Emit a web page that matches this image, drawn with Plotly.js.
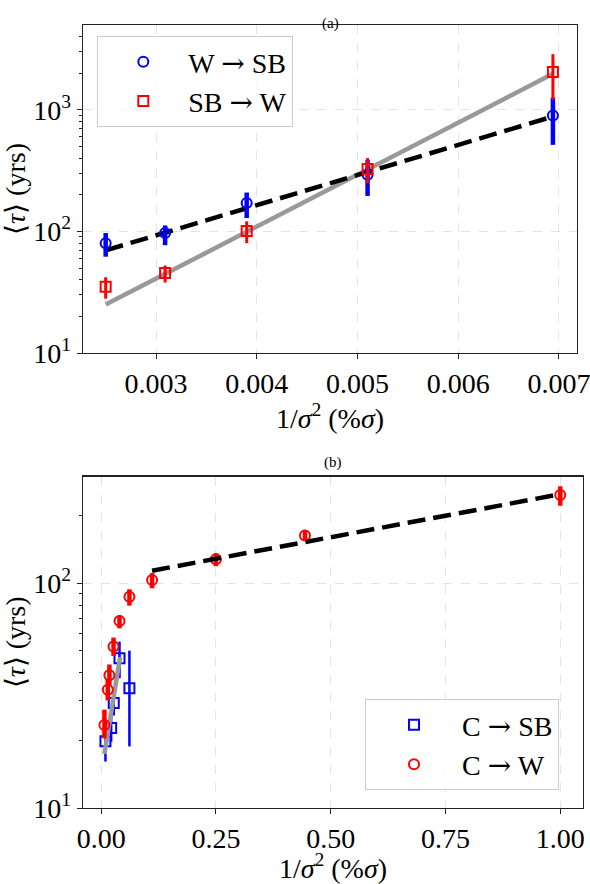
<!DOCTYPE html>
<html>
<head>
<meta charset="utf-8">
<script src="https://cdn.plot.ly/plotly-3.0.1.min.js"></script>
<style>
  body { margin: 0; background: #fff; }
  #graf { width: 590px; height: 884px; }
</style>
</head>
<body>
<div id="graf"></div>
<script>
// panel (a): 1/sigma^2 and mean residence time
var xA = [0.0025, 0.00309, 0.0039, 0.0051, 0.00694];
var tauWSB = [80, 97, 171, 292, 897];
var tauWSBplus = [17, 15, 38, 96, 365];
var tauWSBminus = [18, 20, 42, 96, 382];
var tauSBW = [35, 45.5, 101, 326, 2044];
var tauSBWplus = [7, 7, 20, 75, 826];
var tauSBWminus = [7, 7.5, 21, 77, 836];
var fitAx = [0.0025, 0.00694];
var fitAblack = [69.8, 881];
var fitAgray = [25, 1977];

// panel (b)
var xCW = [0.0072, 0.0145, 0.018, 0.027, 0.04, 0.0616, 0.111, 0.25, 0.444, 1.0];
var tauCW = [23.4, 33.6, 39, 52.3, 68, 87, 103.5, 128, 163, 247];
var tauCWplus = [4, 4, 4.5, 5, 4, 7, 7.5, 8, 9, 23];
var tauCWminus = [3, 3.5, 4, 4.8, 5, 7.5, 8.5, 9, 7, 26];
var xCSB = [0.0094, 0.0218, 0.0275, 0.04, 0.0616];
var tauCSB = [19.8, 22.7, 29.3, 46.4, 34.1];
var tauCSBplus = [1.7, 3, 3.5, 8.6, 16];
var tauCSBminus = [3.7, 3, 3.5, 8.6, 15.3];
var fitBgrayX = [0.0072, 0.0413];
var fitBgrayY = [17.4, 46.9];
var fitBblackX = [0.111, 1.0];
var fitBblackY = [113.7, 249];

var logTicks = [10, 100, 1000];
var logTickText = ['10<sup>1</sup>', '10<sup>2</sup>', '10<sup>3</sup>'];

var pismo = 'Liberation Serif, Times New Roman, serif';
var sipka = ' <span style="font-family:DejaVu Serif">\u2192</span> ';

function bodyStopa(x, y, plus, minus, farba, symbol, hrubka, meno, os, legenda) {
    return {
        x: x,
        y: y,
        type: 'scatter',
        mode: 'markers',
        name: meno,
        xaxis: os[0],
        yaxis: os[1],
        legend: legenda,
        legendgroup: meno,
        marker: {
            symbol: symbol,
            size: 10,
            color: farba,
            line: { color: farba, width: 2 }
        },
        error_y: {
            type: 'data',
            symmetric: false,
            array: plus,
            arrayminus: minus,
            color: farba,
            thickness: hrubka,
            width: 0
        }
    };
}

function ciara(x, y, farba, dash, os) {
    return {
        x: x,
        y: y,
        type: 'scatter',
        mode: 'lines',
        showlegend: false,
        hoverinfo: 'skip',
        xaxis: os[0],
        yaxis: os[1],
        line: { color: farba, width: 4.5, dash: dash }
    };
}

var data = [
    ciara(fitAx, fitAgray, '#999999', 'solid', ['x', 'y']),
    ciara(fitAx, fitAblack, '#000000', '18px,8px', ['x', 'y']),
    bodyStopa(xA, tauWSB, tauWSBplus, tauWSBminus, '#0000ff', 'circle-open', 4.5, 'W' + sipka + 'SB', ['x', 'y'], 'legend'),
    bodyStopa(xA, tauSBW, tauSBWplus, tauSBWminus, '#ff0000', 'square-open', 3, 'SB' + sipka + 'W', ['x', 'y'], 'legend'),
    bodyStopa(xCSB, tauCSB, tauCSBplus, tauCSBminus, '#0000ff', 'square-open', 2.5, 'C' + sipka + 'SB', ['x2', 'y2'], 'legend2'),
    ciara(fitBgrayX, fitBgrayY, '#999999', 'solid', ['x2', 'y2']),
    bodyStopa(xCW, tauCW, tauCWplus, tauCWminus, '#ff0000', 'circle-open', 4.5, 'C' + sipka + 'W', ['x2', 'y2'], 'legend2'),
    ciara(fitBblackX, fitBblackY, '#000000', '18px,8px', ['x2', 'y2'])
];

var spolocne = {
    showline: true,
    linecolor: '#222',
    linewidth: 1.3,
    mirror: true,
    ticks: 'outside',
    ticklen: 5,
    tickwidth: 1,
    tickcolor: '#222',
    showgrid: true,
    gridcolor: '#dddddd',
    griddash: 'dash',
    gridwidth: 0.8,
    zeroline: false,
    automargin: false,
    ticklabeloverflow: 'allow',
    tickfont: { family: pismo, size: 28, color: '#000' }
};

function os(extra) {
    return Object.assign({}, spolocne, extra);
}

var xTitul = { text: '1/<i>\u03c3</i><sup>2</sup> (%<i>\u03c3</i>)', font: { family: pismo, size: 28, color: '#000' }, standoff: 4 };
var yTitul = { text: '\u27e8<i>\u03c4</i>\u27e9 (yrs)', font: { family: pismo, size: 28, color: '#000' }, standoff: 4 };
var minor = { ticks: 'outside', ticklen: 3, tickcolor: '#222', showgrid: false, dtick: 'D1' };

var layout = {
    width: 590,
    height: 884,
    margin: { l: 83, r: 7, t: 25, b: 76 },
    paper_bgcolor: '#fff',
    plot_bgcolor: '#fff',
    font: { family: pismo, color: '#000' },
    xaxis: os({ domain: [0, 0.988], range: [0.002275, 0.007179], dtick: 0.001, tick0: 0, tickformat: '.3f', anchor: 'y', title: xTitul }),
    yaxis: os({ domain: [0.5811, 1], type: 'log', range: [1.0, 3.698], tickmode: 'array', tickvals: logTicks, ticktext: logTickText, minor: minor, anchor: 'x', title: yTitul }),
    xaxis2: os({ domain: [0, 1], range: [-0.0395, 1.0495], dtick: 0.25, tick0: 0, tickformat: '.2f', anchor: 'y2', title: xTitul }),
    yaxis2: os({ domain: [0, 0.4231], type: 'log', range: [1.0, 2.474], tickmode: 'array', tickvals: logTicks, ticktext: logTickText, minor: minor, anchor: 'x2', title: yTitul }),
    legend: {
        x: 0.0286, y: 0.986, xanchor: 'left', yanchor: 'top',
        bgcolor: 'rgba(255,255,255,0.8)', bordercolor: '#cccccc', borderwidth: 1,
        font: { family: pismo, size: 28, color: '#000' },
        itemwidth: 80, tracegroupgap: 0
    },
    legend2: {
        x: 0.564, y: 0.139, xanchor: 'left', yanchor: 'top',
        bgcolor: 'rgba(255,255,255,0.8)', bordercolor: '#cccccc', borderwidth: 1,
        font: { family: pismo, size: 28, color: '#000' },
        itemwidth: 86, tracegroupgap: 0
    },
    annotations: [
        { text: '(a)', xref: 'paper', yref: 'paper', x: 0.494, y: 1.0157, showarrow: false, font: { family: pismo, size: 15, color: '#000' } },
        { text: '(b)', xref: 'paper', yref: 'paper', x: 0.5, y: 0.441, showarrow: false, font: { family: pismo, size: 15, color: '#000' } }
    ],
    showlegend: true
};

Plotly.newPlot('graf', data, layout, { staticPlot: true, displayModeBar: false });
</script>
</body>
</html>
